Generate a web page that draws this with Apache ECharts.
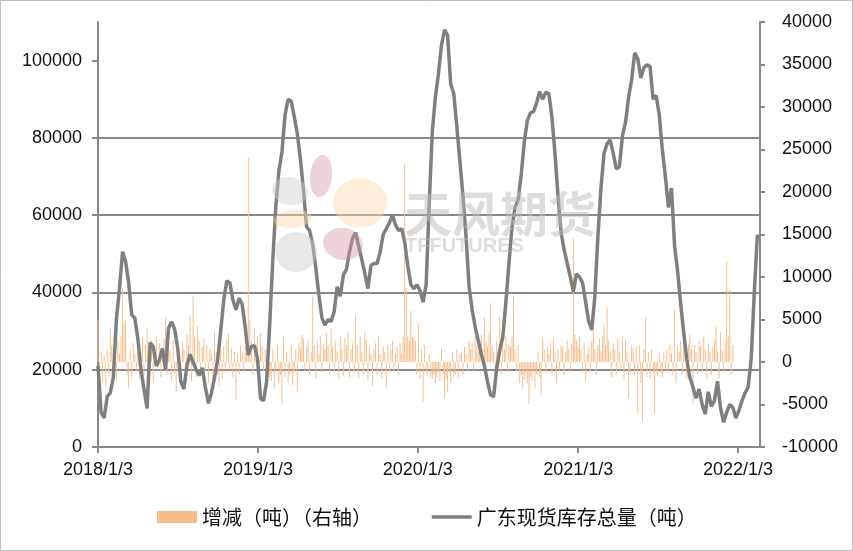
<!DOCTYPE html>
<html><head><meta charset="utf-8">
<script src="https://cdn.jsdelivr.net/npm/echarts@6/dist/echarts.min.js"></script>
<style>html,body{margin:0;padding:0;background:#fff}#c{width:853px;height:551px}</style>
</head><body><div id="c"></div>
<script>
// ---- data ----
const startDate = '2018/1/3';
const tickLabels = ['2018/1/3', '2019/1/3', '2020/1/3', '2021/1/3', '2022/1/3'];
const tickDays = [0, 365, 730, 1096, 1461];      // days after startDate
const axisEndDay = 1511;
const seriesNames = ['增减（吨）（右轴）', '广东现货库存总量（吨）'];

// 广东现货库存总量 (weekly readings, tons)
const stockStepDays = 7;
const stockTotal = [
  21000, 9000, 7500, 13000, 14000, 18000, 33000, 41000, 50500, 48000,
  42500, 34200, 33400, 28000, 20000, 15000, 10000, 27000, 26000, 21000,
  22500, 25500, 20000, 30800, 32400, 30500, 25500, 17000, 15000, 21000,
  24000, 22000, 20000, 18500, 20500, 15500, 11300, 14000, 18000, 22500,
  30000, 38000, 43000, 42500, 38000, 35500, 38500, 37000, 31000, 23800,
  26000, 26200, 23000, 12500, 12000, 17000, 32000, 48500, 62500, 71500,
  76500, 86000, 90000, 89500, 85500, 81000, 74500, 66500, 57000, 56000,
  52500, 46500, 39500, 33500, 31500, 33000, 32500, 35000, 41500, 39000,
  44500, 46000, 50500, 54000, 55500, 52000, 48500, 45000, 41000, 47000,
  47500, 47500, 50500, 55000, 56500, 58000, 60000, 57500, 56000, 56500,
  53000, 47000, 42000, 41000, 42000, 40500, 37500, 42000, 63000, 81500,
  90500, 96500, 104000, 108000, 106500, 94000, 91500, 83000, 74000, 65000,
  54500, 41500, 35500, 31000, 27500, 24000, 21000, 17000, 13500, 13000,
  20400, 25000, 28500, 37500, 47500, 57000, 62000, 64000, 70500, 79000,
  84500, 86500, 86800, 89000, 92000, 90000, 91800, 91500, 85500, 76000,
  65000, 55500, 51000, 47500, 44000, 40200, 44800, 44000, 42500, 37500,
  32500, 30300, 39000, 54500, 67000, 76000, 78500, 79500, 76000, 72000,
  72500, 80500, 84000, 90500, 95000, 102000, 100500, 95500, 98200, 98900,
  98500, 90000, 91000, 86000, 77000, 70000, 62000, 67000, 52000, 45500,
  37000, 29500, 22500, 18000, 15500, 12600, 15000, 11000, 8500, 14300,
  10500, 12000, 17000, 10000, 6400, 9000, 11000, 10200, 7500, 9500,
  12000, 14000, 15500, 23000, 40000, 55000
];

// 增减 (readings every ~3.5 days, tons, right axis)
const changeStepDays = 3.5;
const change = [
  4900, -1500, 1200, -2500, 800, -3000, 1500, -1800, 4000, 2000,
  -1200, 1800, -2200, 2500, 1000, 3000, 8700, 4500, 5000, -1500,
  -3000, 1500, -1800, 2200, 1000, -1000, 1600, -2000, 1200, 3000,
  -1500, 2000, 4000, -1200, 1800, 2500, -2500, 1500, 3000, -1000,
  2200, -1800, 1000, 2800, 5300, -1500, 2000, 1500, -2200, 2600,
  -1400, -3500, 1800, 1200, -1600, 2400, 1500, -2000, 3200, 2000,
  5500, -2300, 7700, 3000, -1800, 4200, 2500, -1500, 1800, 2800,
  -1000, 2000, -2500, 1500, 1000, -2000, 3500, 1200, -1500, -2800,
  1500, -2000, 1800, -1200, 2500, 3400, -1000, 1600, -1800, 1200,
  -4500, 1000, -1500, 2000, 1200, -1000, 1800, 3000, 24100, 5000,
  2500, -1500, 4000, 2200, 3000, -2000, 3400, 1800, -1000, 1500,
  -2500, 1000, -1800, -2200, 1500, -3000, -1200, 2000, -2500, -1500,
  -5000, 3000, -1800, 1200, -2500, -1500, 2000, -2800, -1200, 1500,
  -3500, 2200, 1600, 3200, 2800, -1000, 1800, 2600, -1500, 1200,
  7700, 2000, -1900, 2500, 1000, 3000, -1200, 2200, 1500, 3400,
  2000, -1500, 4000, 1800, -1000, 2500, 1200, -2000, 3000, 1500,
  -1600, 2800, 2000, 3500, -1800, 1500, 2200, -1200, 5500, 2000,
  -2000, 3000, 1200, -1500, 3500, 2600, -2200, 1800, 1000, -2800,
  1500, 2200, -1500, 3000, 1000, -2000, 1800, 1200, -3100, 2000,
  -1200, 1500, 2500, -1000, 1000, 1800, -1500, 2200, 1000, 3000,
  23200, 8700, 3000, 2500, 6000, 3000, 2800, 2500, -1500, 4500,
  -2000, 1500, -4700, 2000, -1200, -1500, 1000, -1800, -2000, -1500,
  -2500, -1800, -1200, -2200, 1600, -1500, -4300, -2000, -3500, -1200,
  -2500, 1200, -1800, -1500, 1500, -2000, 1000, 1200, -1500, 1800,
  1000, -1200, 2500, 1500, 2200, -1000, 3000, 1800, 1200, 2500,
  3200, 1500, 5300, 2500, 1800, 3500, 6900, 2000, 1200, -1500,
  2500, 1200, 5300, -1500, 2000, 1500, 3000, -1200, 2000, 1800,
  3000, 7700, 1500, -1000, 2000, -2500, -1500, -3100, -2000, -1200,
  -2500, -4900, -1800, -2200, -1000, -3000, -1500, 1200, -1800, -3700,
  2800, 1500, -1200, 1800, 1000, 2200, -1500, 2600, 1200, -2500,
  1500, -1000, 2000, 1800, -1500, 1200, 2500, 1500, -1000, 2200,
  14500, 3200, 2500, 1800, 3000, 1500, -1000, 2200, -2300, 1000,
  1800, -1200, 2500, 3800, 1500, -1500, 2000, 2800, 1200, 3000,
  4400, 2000, 6300, 2500, 1200, -1800, 2200, 1500, -1500, 2800,
  1200, -1000, 3000, -2000, 2500, 1200, -4300, -1500, 2000, 1500,
  -1500, 1800, -6000, 2000, -2500, -7000, 1500, 5300, -1800, 1200,
  -2000, 1500, -1200, -6000, -1000, -1500, 1000, -1200, -1800, 1200,
  -1000, 1500, -1200, 2000, 1000, -1500, 6100, -2500, 1800, 1200,
  2500, -1500, 3000, 1500, -2000, 2200, 3200, 1500, -4900, 2000,
  1200, -1500, 2500, 1800, -1200, 3000, 1500, -2000, 2200, 1200,
  -1500, 1800, 2500, 4200, 1200, -2000, 3500, 1500, -1000, 2500,
  11800, 3000, 8500, -1500, 2000
];

// ---- build ----
const lineData = stockTotal.map((v, i) => [i * stockStepDays, v]);
const barData = change.map((v, i) => [i * changeStepDays, v]);

const AX = '#898989';
const LINE = '#7F7F7F';
const numFont = { fontFamily: 'Liberation Sans, Arial, sans-serif', fontSize: 18, color: '#111' };

function tickLabel(v) {
  for (let i = 0; i < tickDays.length; i++) if (Math.abs(v - tickDays[i]) < 2) return tickLabels[i];
  return '';
}

const chart = echarts.init(document.getElementById('c'), null, { renderer: 'canvas' });
chart.setOption({
  animation: false,
  backgroundColor: '#fff',
  grid: { left: 98, right: 93, top: 22, bottom: 104, containLabel: false },
  legend: {
    left: 157, top: 507, padding: 0, itemWidth: 40, itemHeight: 12, itemGap: 58,
    textStyle: { fontFamily: 'Noto Sans CJK SC, sans-serif', fontSize: 20, color: '#111' },
    data: [
      { name: seriesNames[0], icon: 'rect' },
      { name: seriesNames[1],
        itemStyle: { color: 'rgba(0,0,0,0)', borderWidth: 0, opacity: 0 },
        lineStyle: { color: LINE, width: 3.5 } }
    ]
  },
  xAxis: {
    type: 'value', min: 0, max: axisEndDay, interval: 365.25,
    axisLine: { show: true, onZero: false, lineStyle: { color: AX, width: 2 } },
    axisTick: { show: true, customValues: tickDays, length: 6, lineStyle: { color: AX, width: 2 } },
    axisLabel: Object.assign({ customValues: tickDays, margin: 14, formatter: tickLabel }, numFont),
    splitLine: { show: false }
  },
  yAxis: [
    {
      type: 'value', position: 'left', min: 0, max: 110000, interval: 20000,
      axisLine: { show: true, lineStyle: { color: AX, width: 2 } },
      axisTick: { show: true, length: 6, customValues: [0, 20000, 40000, 60000, 80000, 100000], lineStyle: { color: AX, width: 2 } },
      axisLabel: Object.assign({ margin: 16, showMaxLabel: false, formatter: v => (v % 20000 === 0 ? String(v) : '') }, numFont),
      splitLine: { show: true, showMaxLine: false, lineStyle: { color: AX, width: 2 } }
    },
    {
      type: 'value', position: 'right', min: -10000, max: 40000, interval: 5000,
      axisLine: { show: true, lineStyle: { color: AX, width: 2 } },
      axisTick: { show: true, length: 5, lineStyle: { color: AX, width: 2 } },
      axisLabel: Object.assign({ margin: 22, formatter: v => String(v) }, numFont),
      splitLine: { show: false }
    }
  ],
  series: [
    {
      name: seriesNames[0], type: 'bar', yAxisIndex: 1, data: barData,
      barWidth: 1, itemStyle: { color: '#F7BE8C' }, z: 2
    },
    {
      name: seriesNames[1], type: 'line', yAxisIndex: 0, data: lineData,
      symbol: 'none', showSymbol: false,
      lineStyle: { color: LINE, width: 3.5 }, itemStyle: { color: LINE }, z: 3
    }
  ],
  graphic: [
    { type: 'rect', silent: true, z: 200, shape: { x: 0.5, y: 0.5, width: 852, height: 550 },
      style: { fill: 'none', stroke: '#bfbfbf', lineWidth: 1 } },
    // watermark petals
    { type: 'circle', silent: true, z: 100, x: 321, y: 176, scaleX: 11, scaleY: 21, rotation: -0.1, shape: { cx: 0, cy: 0, r: 1 }, style: { fill: '#D796A8', opacity: 0.42 } },
    { type: 'circle', silent: true, z: 100, x: 290, y: 191, scaleX: 18, scaleY: 14, rotation: -0.2, shape: { cx: 0, cy: 0, r: 1 }, style: { fill: '#CECECE', opacity: 0.45 } },
    { type: 'circle', silent: true, z: 100, x: 360, y: 203, scaleX: 27, scaleY: 25, shape: { cx: 0, cy: 0, r: 1 }, style: { fill: '#FBD7AD', opacity: 0.45 } },
    { type: 'circle', silent: true, z: 100, x: 293, y: 219, scaleX: 19, scaleY: 9, rotation: 0.1, shape: { cx: 0, cy: 0, r: 1 }, style: { fill: '#FBD7AD', opacity: 0.45 } },
    { type: 'circle', silent: true, z: 100, x: 296, y: 252, scaleX: 21, scaleY: 20, shape: { cx: 0, cy: 0, r: 1 }, style: { fill: '#CECECE', opacity: 0.45 } },
    { type: 'circle', silent: true, z: 100, x: 343, y: 244, scaleX: 20, scaleY: 16, rotation: -0.2, shape: { cx: 0, cy: 0, r: 1 }, style: { fill: '#D796A8', opacity: 0.42 } },
    { type: 'text', silent: true, z: 100, x: 404, y: 214,
      style: { text: '天风期货', fill: '#BCBCBC', opacity: 0.5, font: 'bold 48px "Noto Sans CJK SC", sans-serif', textVerticalAlign: 'middle', verticalAlign: 'middle' } },
    { type: 'text', silent: true, z: 100, x: 405, y: 246,
      style: { text: 'TFFUTURES', fill: '#BCBCBC', opacity: 0.5, font: 'bold 20px "Liberation Sans", Arial, sans-serif', textVerticalAlign: 'middle', verticalAlign: 'middle' } }
  ]
});
</script>
</body></html>
